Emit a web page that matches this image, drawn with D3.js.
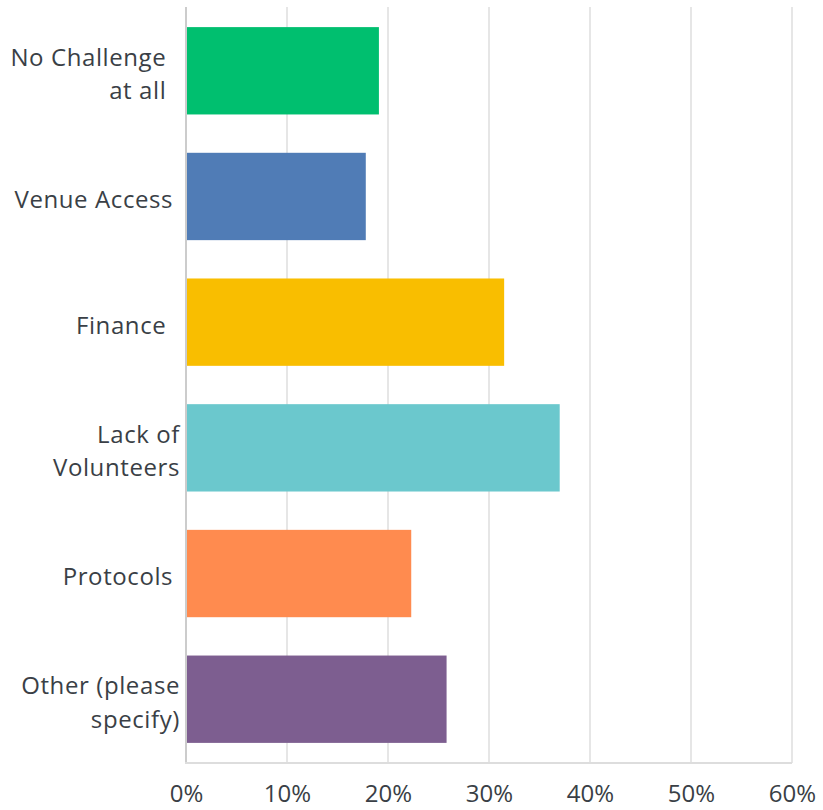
<!DOCTYPE html>
<html>
<head>
<meta charset="utf-8">
<script src="https://cdn.jsdelivr.net/npm/d3@7"></script>
<style>
  html, body { margin: 0; padding: 0; background: #fff; }
  svg { display: block; }
  text { font-family: "Open Sans", "Noto Sans", sans-serif; fill: #3a3f46; white-space: pre; }
</style>
</head>
<body>
<svg id="chart" width="823" height="810"></svg>
<script>
// Survey answers: which challenges respondents face
const categories = [
  "No Challenge  |at all  ",
  "Venue Access ",
  "Finance  ",
  "Lack of|Volunteers",
  "Protocols ",
  "Other (please|specify)"
];
const percentages = [19.1, 17.8, 31.5, 37.0, 22.3, 25.8];
const colors = ["#00bf6f", "#507cb6", "#f9be00", "#6bc8cd", "#ff8b4f", "#7d5e90"];
const tickValues = [0, 10, 20, 30, 40, 50, 60];

const svg = d3.select("#chart");
const plotLeft = 186, plotRight = 792, plotTop = 7, plotBottom = 763;

const x = d3.scaleLinear().domain([0, 60]).range([plotLeft, plotRight]);
const y = d3.scaleBand()
  .domain(categories)
  .range([plotTop, plotBottom])
  .paddingInner(0.305)
  .paddingOuter(0.16);

// vertical gridlines
svg.append("g")
  .selectAll("line")
  .data(tickValues.slice(1))
  .join("line")
  .attr("x1", d => x(d)).attr("x2", d => x(d))
  .attr("y1", plotTop).attr("y2", plotBottom)
  .attr("stroke", "#e6e6e6")
  .attr("stroke-width", 2);

// bars
svg.append("g")
  .selectAll("rect")
  .data(categories)
  .join("rect")
  .attr("x", x(0))
  .attr("y", d => y(d))
  .attr("width", (d, i) => x(percentages[i]) - x(0))
  .attr("height", y.bandwidth())
  .attr("fill", (d, i) => colors[i]);

// left axis line and bottom baseline
svg.append("line")
  .attr("x1", x(0)).attr("x2", x(0))
  .attr("y1", plotTop).attr("y2", plotBottom)
  .attr("stroke", "#cccccc").attr("stroke-width", 2);
svg.append("line")
  .attr("x1", x(0) - 1).attr("x2", plotRight)
  .attr("y1", plotBottom).attr("y2", plotBottom)
  .attr("stroke", "#dddddd").attr("stroke-width", 2);

// x axis tick labels
const xAxis = d3.axisBottom(x)
  .tickValues(tickValues)
  .tickFormat(d => d + "%")
  .tickSize(0)
  .tickPadding(0);
const gx = svg.append("g")
  .attr("transform", `translate(0, ${plotBottom + 39})`)
  .call(xAxis);
gx.select(".domain").remove();
gx.selectAll("text")
  .attr("dy", "0")
  .style("font-size", "24px")
  .style("font-family", "\"Open Sans\", sans-serif")
  .style("fill", "#3a3f46");

// category labels (possibly two lines)
const lineGap = 33.4;
const labelX = 180;
const labels = svg.append("g")
  .selectAll("text")
  .data(categories)
  .join("text")
  .attr("text-anchor", "end")
  .attr("x", labelX)
  .style("font-size", "24px")
  .style("letter-spacing", "0.6px");
labels.each(function(d) {
  const lines = d.split("|");
  const cy = y(d) + y.bandwidth() / 2 + 3.5;
  const t = d3.select(this);
  lines.forEach((ln, k) => {
    t.append("tspan")
      .attr("x", labelX)
      .attr("y", cy + (k - (lines.length - 1) / 2) * lineGap)
      .attr("dy", "0.35em")
      .text(ln);
  });
});
</script>
</body>
</html>
